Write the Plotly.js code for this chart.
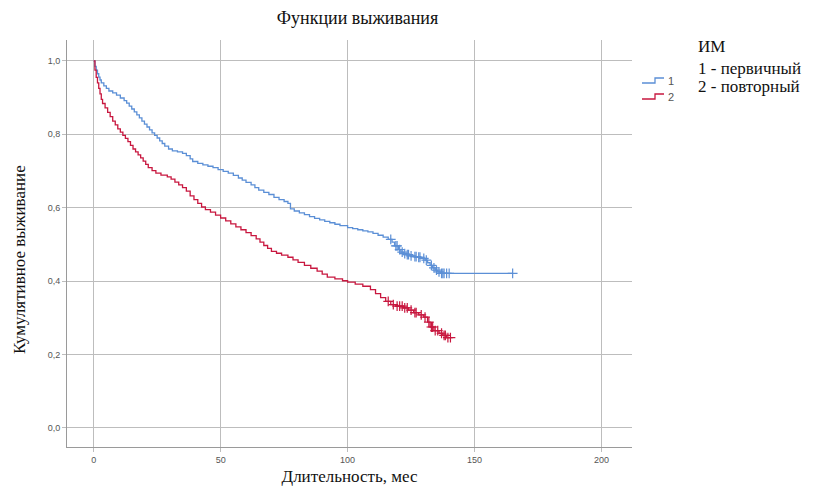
<!DOCTYPE html>
<html><head><meta charset="utf-8">
<script src="https://cdn.plot.ly/plotly-3.0.1.min.js"></script>
<style>html,body{margin:0;padding:0;background:#fff;}#chart{width:822px;height:490px;}</style>
</head><body><div id="chart"></div>
<script>
// Group 1 (первичный) Kaplan-Meier steps
const timeBlue = [0,0.5,1,1.5,2,2.5,3,4,5,6,7.5,9,10.5,12,13,14,15,16,17,18,19,20,21,22,23,24,25,26,27,28,29.5,31,33,35,36.5,38,39,41,43,45,47,49,51,53,55,57,58.5,60,62,63.5,65,67,69,71,73,75,76.5,77.5,79,81,83,85,87,89,91,93,95,97,100,102,104,106,108,110,112,114,116,117.5,118.5,120,121,122,123,124.5,126,127.5,129,130.5,131.5,132.5,133.5,134.5,135.5,136.5,165];
const survBlue = [1.0,0.985,0.975,0.965,0.956,0.948,0.94,0.932,0.925,0.918,0.913,0.907,0.899,0.892,0.885,0.877,0.869,0.861,0.853,0.845,0.836,0.828,0.82,0.812,0.804,0.797,0.79,0.782,0.775,0.768,0.76,0.755,0.752,0.748,0.742,0.733,0.726,0.721,0.717,0.713,0.709,0.704,0.699,0.694,0.688,0.681,0.675,0.669,0.662,0.655,0.648,0.642,0.636,0.628,0.622,0.617,0.612,0.597,0.591,0.586,0.581,0.576,0.571,0.567,0.563,0.559,0.555,0.551,0.546,0.543,0.54,0.537,0.534,0.53,0.525,0.52,0.514,0.506,0.496,0.486,0.479,0.475,0.472,0.469,0.467,0.465,0.462,0.457,0.45,0.443,0.436,0.43,0.425,0.421,0.421];
const censorBlue = [117,119,119.5,120.5,121.5,122.5,123.5,124,125,126.5,127,128,128.5,130,131,133,134,135,136,137,137.5,138,139,140,165];

// Group 2 (повторный)
const timeRed = [0,0.5,1,1.5,2,2.5,3,3.5,4.5,5.5,6.5,7.5,8.5,9.5,10.5,11.5,12.5,13.5,14.5,15.5,16.5,17.5,18.5,19.5,20.5,21.5,23,24.5,26.5,29,30.5,32,33.5,35,36.5,38,39.5,41,42.5,44,46,48,50,52,54,56,58,60,62,64,65.5,67,68.5,70,72,74,76.5,78.5,80.5,83,85.5,88,90,92,95,98,100,103,106,109,111,113,115,117,119,122,124,126,128,130,131.5,132.5,134,136,137.5,139,140.5];
const survRed = [1.0,0.975,0.955,0.94,0.925,0.91,0.895,0.884,0.872,0.86,0.848,0.836,0.826,0.815,0.806,0.797,0.789,0.78,0.77,0.76,0.752,0.744,0.736,0.727,0.718,0.709,0.701,0.694,0.689,0.684,0.678,0.67,0.662,0.655,0.645,0.632,0.622,0.612,0.602,0.595,0.588,0.58,0.572,0.564,0.556,0.548,0.54,0.532,0.524,0.515,0.506,0.497,0.489,0.481,0.476,0.471,0.465,0.458,0.451,0.443,0.435,0.427,0.419,0.411,0.406,0.401,0.397,0.392,0.386,0.377,0.366,0.355,0.345,0.336,0.332,0.327,0.321,0.314,0.308,0.302,0.288,0.275,0.265,0.258,0.252,0.246,0.246];
const censorRed = [116,118,119.5,120.5,121.5,122.5,123.5,125,126.5,127,129,130.5,132,133,133.5,134.5,135.5,137,138,138.5,139.5,140.5];

const xTicks = [0,50,100,150,200];
const yTicks = [0,0.2,0.4,0.6,0.8,1.0];
const groupNames = ['1','2'];
const legendTitle = 'ИМ';
const legendLines = ['1 - первичный','2 - повторный'];

function survAt(times, surv, t){
  let v = surv[0];
  for (let i=0;i<times.length;i++){ if (times[i] <= t) v = surv[i]; else break; }
  return v;
}

const blue = '#5b8fd6', red = '#c8173f';
const traces = [
  {x: timeBlue, y: survBlue, mode:'lines', line:{shape:'hv', color:blue, width:1.3}, name:groupNames[0], showlegend:false},
  {x: timeRed, y: survRed, mode:'lines', line:{shape:'hv', color:red, width:1.3}, name:groupNames[1], showlegend:false},
  {x: censorBlue, y: censorBlue.map(t=>survAt(timeBlue,survBlue,t)), mode:'markers', marker:{symbol:'cross-thin', size:7, line:{color:blue, width:1.2}}, showlegend:false, hoverinfo:'skip'},
  {x: censorRed, y: censorRed.map(t=>survAt(timeRed,survRed,t)), mode:'markers', marker:{symbol:'cross-thin', size:7, line:{color:red, width:1.2}}, showlegend:false, hoverinfo:'skip'}
];

// plot area in pixels: left 67, right 632, top 40, bottom 447
const L=67, R=632, T=40, B=447;
const px = x => (x-L)/(R-L);
const py = y => (B-y)/(B-T);
function stepGlyph(y0, color){
  const x0=px(642), x1=px(655), x2=px(664), yl=py(y0), yh=py(y0-5);
  return {type:'path', xref:'paper', yref:'paper', path:`M ${x0} ${yl} L ${x1} ${yl} L ${x1} ${yh} L ${x2} ${yh}`, line:{color:color, width:1.3}};
}

const serif = '"Liberation Serif", "Times New Roman", serif';
const sans = '"Liberation Sans", Arial, sans-serif';
const layout = {
  width:822, height:490,
  margin:{l:L, r:822-R, t:T, b:490-B},
  paper_bgcolor:'#fff', plot_bgcolor:'#fff',
  separators:',.',
  showlegend:false,
  title:{text:'Функции выживания', font:{family:serif, size:18, color:'#111'}, x:0.435, xanchor:'center', y:0.963, yanchor:'middle'},
  xaxis:{range:[-10.5,212], tickvals:xTicks, ticktext:xTicks.map(String), showgrid:true, gridcolor:'#bdbdbd', gridwidth:1, zeroline:false,
    showline:true, linecolor:'#9a9a9a', linewidth:1, ticks:'outside', ticklen:4, tickcolor:'#bdbdbd',
    tickfont:{family:sans, size:9, color:'#555'},
    title:{text:'Длительность, мес', font:{family:serif, size:17, color:'#111'}, standoff:6}},
  yaxis:{range:[-0.052,1.057], tickvals:yTicks, tickformat:'.1f', showgrid:true, gridcolor:'#bdbdbd', gridwidth:1, zeroline:false,
    showline:true, linecolor:'#9a9a9a', linewidth:1, ticks:'outside', ticklen:4, tickcolor:'#bdbdbd',
    tickfont:{family:sans, size:9, color:'#555'}},
  shapes:[stepGlyph(83, blue), stepGlyph(99, red)],
  annotations:[
    {xref:'paper', yref:'paper', x:px(19), y:py(260), xanchor:'center', yanchor:'middle', textangle:-90, text:'Кумулятивное выживание', showarrow:false, font:{family:serif, size:17, color:'#111'}},
    {xref:'paper', yref:'paper', x:px(666), y:py(81), xanchor:'left', yanchor:'middle', text:groupNames[0], showarrow:false, font:{family:sans, size:11, color:'#555'}},
    {xref:'paper', yref:'paper', x:px(666), y:py(97), xanchor:'left', yanchor:'middle', text:groupNames[1], showarrow:false, font:{family:sans, size:11, color:'#555'}},
    {xref:'paper', yref:'paper', x:px(696), y:py(47), xanchor:'left', yanchor:'middle', text:legendTitle, showarrow:false, font:{family:serif, size:17, color:'#111'}},
    {xref:'paper', yref:'paper', x:px(696), y:py(68), xanchor:'left', yanchor:'middle', text:legendLines[0], showarrow:false, font:{family:serif, size:17, color:'#111'}},
    {xref:'paper', yref:'paper', x:px(696), y:py(86), xanchor:'left', yanchor:'middle', text:legendLines[1], showarrow:false, font:{family:serif, size:17, color:'#111'}}
  ]
};
Plotly.newPlot('chart', traces, layout, {displayModeBar:false, staticPlot:true});
</script></body></html>
